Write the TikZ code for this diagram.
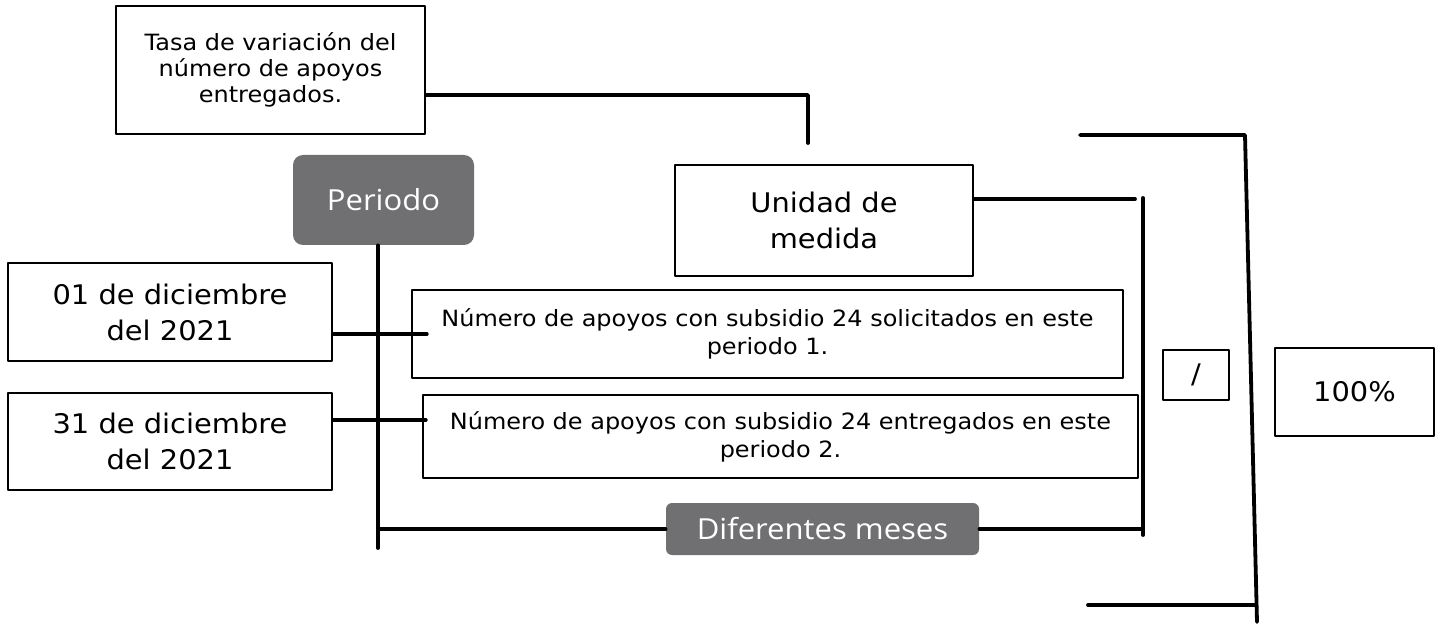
\documentclass[tikz,border=0pt]{standalone}
\usepackage{fontspec}
\setmainfont{DejaVu Sans}[FakeStretch=1.07]
\newfontfamily\greyfont{Open Sans}[FakeStretch=1.07]
\usetikzlibrary{calc}
\definecolor{boxgrey}{RGB}{112,112,114}

\begin{document}
\begin{tikzpicture}[line cap=round,line join=round,x=0.5pt,y=-0.5pt,
		box/.style={draw=black,line width=1.2pt,inner sep=0pt,align=center},
		smalltext/.style={font=\fontsize{11.2}{14}\selectfont},
		bigtext/.style={font=\fontsize{13.5}{18}\selectfont},
		greybox/.style={fill=boxgrey,rounded corners=5pt,text=white,inner sep=0pt,font=\greyfont\fontsize{14.5}{16}\selectfont},
		conn/.style={line width=1.9pt}]
		\useasboundingbox (0,0) rectangle (1442,626);
		% boxes
		\node[box,font=\fontsize{11.2}{13}\selectfont,minimum width=154.5pt,minimum height=64pt] (tasa) at (270.5,70) {Tasa de variación del\\número de apoyos\\entregados.};
		\node[greybox,minimum width=90.5pt,minimum height=45pt] (periodo) at (383.5,200) {Periodo};
		\node[box,bigtext,minimum width=149pt,minimum height=55.5pt] (unidad) at (824,220.5) {Unidad de\\medida};
		\node[box,bigtext,minimum width=162pt,minimum height=49pt] (dic01) at (170,312) {01 de diciembre\\del 2021};
		\node[box,bigtext,minimum width=162pt,minimum height=48.5pt] (dic31) at (170,441.5) {31 de diciembre\\del 2021};
		\node[box,smalltext,minimum width=355.5pt,minimum height=44pt] (solic) at (767.5,334) {Número de apoyos con subsidio 24 solicitados en este\\periodo 1.};
		\node[box,smalltext,minimum width=357.5pt,minimum height=41.5pt] (entreg) at (780.5,436.5) {Número de apoyos con subsidio 24 entregados en este\\periodo 2.};
		\node[greybox,rounded corners=3pt,minimum width=156.5pt,minimum height=26pt] (meses) at (822.5,529) {Diferentes meses};
		\node[box,bigtext,minimum width=33pt,minimum height=25pt] (div) at (1196,375) {/};
		\node[box,bigtext,minimum width=79.5pt,minimum height=44pt] (cien) at (1354.5,392) {100\%};
		% free ends
		\coordinate (tasaEnd) at (808,143);
		\coordinate (perEnd) at (378,548);
		\coordinate (brTop) at (1135,199);
		\coordinate (brA) at (1143,198);
		\coordinate (brB) at (1143,535);
		\coordinate (outA) at (1080,135);
		\coordinate (outB) at (1245,135);
		\coordinate (outC) at (1257,622);
		\coordinate (outD) at (1088,605);
		\coordinate (outE) at (1255,605);
		% connectors
		\draw[conn] ($(tasa.east)+(0,25)$) -| (tasaEnd);
		\draw[conn] (periodo.south -| perEnd) -- (perEnd);
		\draw[conn] (dic01.east |- solic.west) -- ($(solic.west)+(16,0)$);
		\draw[conn] ($(dic31.east)+(0,-21.5)$) coordinate (d31) -- ($(d31 -| entreg.west)+(4,0)$);
		\draw[conn] ($(unidad.east)+(0,-21.5)$) -- (brTop);
		\draw[conn] (brA) -- (brB);
		\draw[conn] (perEnd |- meses.west) -- (meses.west);
		\draw[conn] (meses.east) -- (meses.east -| brA);
		\draw[conn] (outA) -- (outB) -- (outC);
		\draw[conn] (outD) -- (outE);
	\end{tikzpicture}
\end{document}
